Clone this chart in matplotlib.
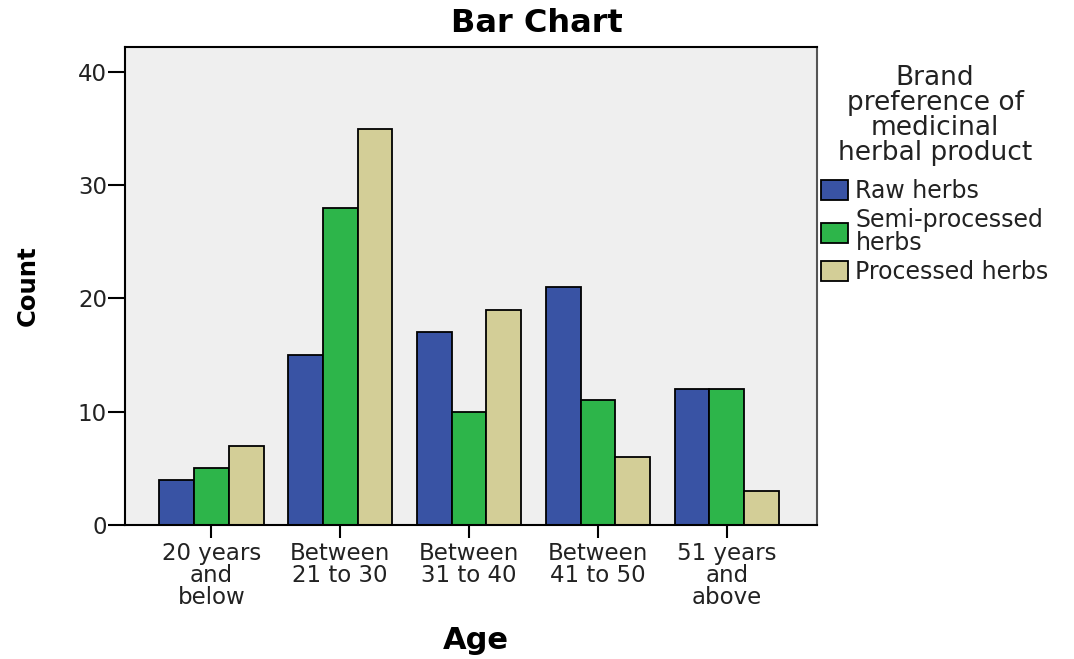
import numpy as np
import matplotlib
matplotlib.use('Agg')
import matplotlib.pyplot as plt

plt.rcParams['font.family'] = ['DejaVu Sans']

age_groups = ['20 years\nand\nbelow', 'Between\n21 to 30', 'Between\n31 to 40',
              'Between\n41 to 50', '51 years\nand\nabove']
raw_herbs = [4, 15, 17, 21, 12]
semi_processed = [5, 28, 10, 11, 12]
processed = [7, 35, 19, 6, 3]
series_names = ['Raw herbs', 'Semi-processed\nherbs', 'Processed herbs']
colors = ['#3953A4', '#2DB54A', '#D3CE97']

fig = plt.figure(figsize=(10.74, 6.59), dpi=100)
ax = fig.add_axes([0.1164, 0.2033, 0.6443, 0.7254])
ax.set_facecolor('#EFEFEF')

x = np.arange(len(age_groups))
w = 0.27
for i, (vals, name, c) in enumerate(zip([raw_herbs, semi_processed, processed], series_names, colors)):
    ax.bar(x + (i - 1) * w, vals, w, color=c, edgecolor='black', linewidth=1.3, label=name)

ax.set_xlim(-0.67, 4.7)
ax.set_ylim(0, 42.2)
ax.set_yticks([0, 10, 20, 30, 40])
ax.set_xticks(x)
ax.set_xticklabels(age_groups, fontsize=16.5, linespacing=0.95, color='#222222')
ax.tick_params(axis='y', labelsize=16.5, labelcolor='#222222', length=12, width=1.5, pad=1)
ax.tick_params(axis='x', length=9, width=1.5, pad=3)
for s in ['left', 'bottom', 'top']:
    ax.spines[s].set_linewidth(1.5)
ax.spines['right'].set_color('#555555')
ax.spines['right'].set_linewidth(1.5)

fig.text(0.5, 0.965, 'Bar Chart', ha='center', va='center', fontsize=23, fontweight='bold')
fig.text(0.026, 0.567, 'Count', ha='center', va='center', rotation=90, fontsize=17.5, fontweight='bold')
fig.text(0.443, 0.028, 'Age', ha='center', va='center', fontsize=22, fontweight='bold')

leg = fig.legend(loc='upper left', bbox_to_anchor=(0.756, 0.916), frameon=False,
                 title='Brand\npreference of\nmedicinal\nherbal product',
                 fontsize=17, title_fontsize=19, handlelength=1.14, handleheight=0.9,
                 handletextpad=0.3, labelspacing=0.22, borderaxespad=0)
leg.get_title().set_linespacing(0.95)
leg.get_title().set_multialignment('center')
leg.get_title().set_color('#222222')
for t in leg.get_texts():
    t.set_linespacing(0.92)
    t.set_color('#222222')
leg._legend_box.align = 'center'
leg._legend_box.sep = 9.5

fig.savefig('out.png', dpi=100)
